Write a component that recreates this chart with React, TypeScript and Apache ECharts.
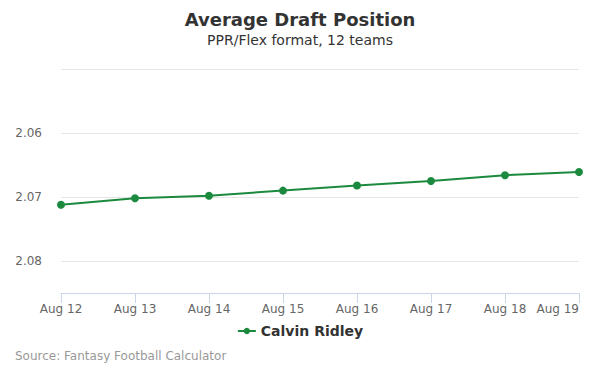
import React, { useEffect, useRef } from "react";
import * as echarts from "echarts";

const categories = ["Aug 12", "Aug 13", "Aug 14", "Aug 15", "Aug 16", "Aug 17", "Aug 18", "Aug 19"];
const ridleyValues = [2.0712, 2.0702, 2.0698, 2.069, 2.0682, 2.0675, 2.0666, 2.0661];
const yLabelsShown = [2.06, 2.07, 2.08];

export default function App() {
  const ref = useRef<HTMLDivElement>(null);
  useEffect(() => {
    if (!ref.current) return;
    const chart = echarts.init(ref.current, null, { renderer: "svg" });
    const font = "DejaVu Sans, sans-serif";
    chart.setOption({
      animation: false,
      title: {
        text: "Average Draft Position",
        subtext: "PPR/Flex format, 12 teams",
        left: "center",
        top: 5,
        itemGap: 5,
        textStyle: { fontFamily: font, fontSize: 18, fontWeight: "bold", color: "#333333" },
        subtextStyle: { fontFamily: font, fontSize: 14, color: "#333333" },
      },
      legend: {
        bottom: 32,
        left: "center",
        itemWidth: 18,
        itemHeight: 8,
        textStyle: { fontFamily: font, fontSize: 14, fontWeight: "bold", color: "#333333" },
        data: ["Calvin Ridley"],
      },
      grid: { left: 61, right: 21, top: 69, bottom: 82 },
      xAxis: {
        type: "category",
        data: categories,
        boundaryGap: false,
        axisLine: { lineStyle: { color: "#ccd6eb" } },
        axisTick: { length: 10, lineStyle: { color: "#ccd6eb" } },
        axisLabel: { fontFamily: font, fontSize: 12, color: "#666666", margin: 10, alignMaxLabel: "right" },
        splitLine: { show: false },
      },
      yAxis: {
        type: "value",
        inverse: true,
        min: 2.05,
        max: 2.085,
        interval: 0.01,
        axisLine: { show: false },
        axisTick: { show: false },
        axisLabel: {
          fontFamily: font,
          fontSize: 12,
          color: "#666666",
          margin: 19,
          formatter: (v: number) => {
            const m = yLabelsShown.find((s) => Math.abs(s - v) < 1e-6);
            return m !== undefined ? m.toFixed(2) : "";
          },
        },
        splitLine: { lineStyle: { color: "#e6e6e6" } },
      },
      series: [
        {
          name: "Calvin Ridley",
          type: "line",
          data: ridleyValues,
          symbol: "circle",
          symbolSize: 8,
          itemStyle: { color: "#1b8a3e" },
          lineStyle: { color: "#1b8a3e", width: 2 },
        },
      ],
      graphic: [
        {
          type: "text",
          left: 15,
          top: 350,
          style: { text: "Source: Fantasy Football Calculator", fontFamily: font, fontSize: 12, fill: "#999999" },
        },
      ],
    });
    return () => chart.dispose();
  }, []);
  return <div ref={ref} style={{ width: 600, height: 375, position: "absolute", left: 0, top: 0 }} />;
}
